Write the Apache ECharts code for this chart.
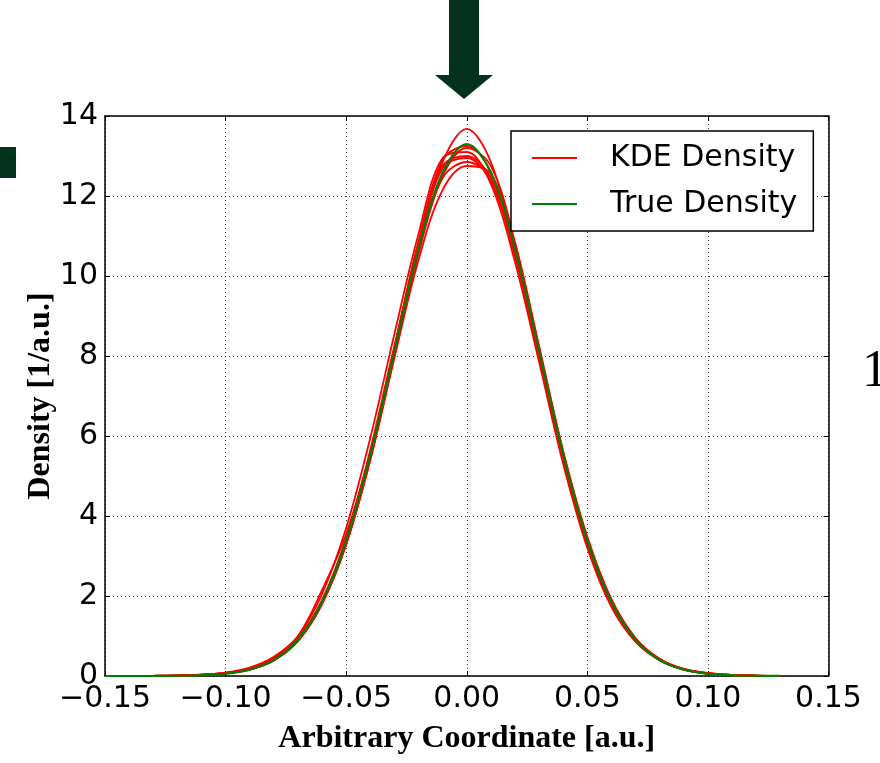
<!DOCTYPE html>
<html>
<head>
<meta charset="utf-8">
<script src="https://cdn.jsdelivr.net/npm/echarts@6/dist/echarts.min.js"></script>
<style>
  html, body { margin: 0; padding: 0; background: #fff; }
  #chart { width: 880px; height: 763px; }
</style>
</head>
<body>
<div id="chart"></div>
<script>
// Sample positions shared by every curve
const xs = [-0.15, -0.14, -0.13, -0.12, -0.11, -0.10, -0.09, -0.08, -0.07, -0.06,
            -0.05, -0.04, -0.03, -0.02, -0.01, 0.00, 0.01, 0.02, 0.03, 0.04,
            0.05, 0.06, 0.07, 0.08, 0.09, 0.10, 0.11, 0.12, 0.13];

// Reference (true) density
const trueDensity = [0, 0.0002, 0.001, 0.005, 0.0175, 0.055, 0.157, 0.398, 0.907, 1.85,
                     3.38, 5.53, 8.12, 10.68, 12.59, 13.30, 12.59, 10.68, 8.12, 5.53,
                     3.38, 1.85, 0.907, 0.398, 0.157, 0.055, 0.0175, 0.005, 0.001];

// Kernel density estimates, one per resampled data set
const kde1 = [0, 0.001, 0.003, 0.010, 0.030, 0.070, 0.17, 0.40, 0.88, 1.80,
              3.30, 5.45, 8.05, 10.75, 12.85, 13.68, 12.85, 10.70, 7.95, 5.35,
              3.25, 1.78, 0.88, 0.40, 0.17, 0.070, 0.025, 0.008, 0.002];
const kde2 = [0, 0.002, 0.005, 0.012, 0.035, 0.080, 0.19, 0.45, 0.98, 2.05,
              3.70, 5.95, 8.55, 11.05, 12.95, 13.10, 12.30, 10.35, 7.85, 5.30,
              3.20, 1.72, 0.85, 0.39, 0.16, 0.060, 0.020, 0.006, 0.001];
const kde3 = [0, 0.001, 0.004, 0.012, 0.030, 0.075, 0.18, 0.42, 0.92, 1.90,
              3.45, 5.65, 8.25, 10.70, 12.45, 12.85, 12.45, 10.55, 8.05, 5.55,
              3.45, 1.90, 0.93, 0.42, 0.17, 0.065, 0.022, 0.007, 0.002];
const kde4 = [0, 0.001, 0.003, 0.009, 0.028, 0.065, 0.16, 0.39, 0.88, 1.82,
              3.30, 5.40, 8.00, 10.55, 12.50, 13.20, 12.75, 10.85, 8.25, 5.60,
              3.42, 1.88, 0.93, 0.41, 0.16, 0.060, 0.020, 0.006, 0.001];
const kde5 = [0, 0.002, 0.005, 0.013, 0.035, 0.085, 0.21, 0.48, 1.00, 2.15,
              3.55, 5.60, 8.20, 10.80, 12.70, 12.95, 12.35, 10.50, 8.00, 5.50,
              3.38, 1.86, 0.92, 0.42, 0.17, 0.070, 0.025, 0.008, 0.002];
const kde6 = [0, 0.001, 0.004, 0.011, 0.032, 0.075, 0.18, 0.43, 0.94, 1.88,
              3.40, 5.55, 8.20, 10.85, 12.75, 13.00, 12.45, 10.55, 8.00, 5.45,
              3.35, 1.84, 0.91, 0.40, 0.16, 0.060, 0.020, 0.006, 0.001];
const kde7 = [0, 0.001, 0.003, 0.010, 0.030, 0.070, 0.17, 0.41, 0.90, 1.86,
              3.38, 5.52, 8.18, 10.85, 12.90, 13.25, 12.60, 10.60, 8.05, 5.48,
              3.35, 1.85, 0.92, 0.42, 0.18, 0.075, 0.028, 0.009, 0.002];
const kde8 = [0, 0.001, 0.003, 0.009, 0.027, 0.065, 0.16, 0.39, 0.87, 1.80,
              3.28, 5.40, 7.95, 10.40, 12.15, 12.75, 12.55, 10.80, 8.20, 5.62,
              3.48, 1.92, 0.95, 0.43, 0.17, 0.065, 0.022, 0.007, 0.002];
const kdeCurves = [kde1, kde2, kde3, kde4, kde5, kde6, kde7, kde8];

// Axis ticks
const xTicks = [-0.15, -0.10, -0.05, 0.00, 0.05, 0.10, 0.15];
const yTicks = [0, 2, 4, 6, 8, 10, 12, 14];

const legendNames = ['KDE Density', 'True Density'];

const pair = ys => xs.map((x, i) => [x, ys[i]]);
const fmtX = v => {
  if (Math.abs(v) < 1e-9) return '0.00';
  const s = Math.abs(v).toFixed(2);
  return (v < 0 ? '\u2212' : '') + s;
};

const tickFont = { fontFamily: 'DejaVu Sans', fontSize: 30, color: '#000' };
const nameFont = { fontFamily: 'Liberation Serif', fontWeight: 'bold', fontSize: 32, color: '#000' };
const dotted = { show: true, lineStyle: { color: '#000', width: 1, type: [1, 3], opacity: 0.75 } };

const series = kdeCurves.map(ys => ({
  name: legendNames[0],
  type: 'line',
  data: pair(ys),
  smooth: 0.35,
  showSymbol: false,
  symbol: 'none',
  lineStyle: { color: '#ff0000', width: 1.8 },
  itemStyle: { color: '#ff0000' },
  z: 2
}));
series.push({
  name: legendNames[1],
  type: 'line',
  data: pair(trueDensity),
  smooth: 0.35,
  showSymbol: false,
  symbol: 'none',
  lineStyle: { color: '#008000', width: 2.2 },
  itemStyle: { color: '#008000' },
  z: 3
});

const xMin = xTicks[0], xMax = xTicks[xTicks.length - 1];
const yMin = yTicks[0], yMax = yTicks[yTicks.length - 1];

const chart = echarts.init(document.getElementById('chart'), null, { renderer: 'canvas' });
chart.setOption({
  animation: false,
  backgroundColor: '#fff',
  grid: { left: 105, right: 51.5, top: 116, bottom: 87, containLabel: false },
  xAxis: [{
    type: 'value', min: xMin, max: xMax, interval: 0.05,
    axisLine: { show: true, onZero: false, lineStyle: { color: '#000', width: 1.5 } },
    axisTick: { show: true, inside: true, length: 5, lineStyle: { color: '#000' } },
    axisLabel: Object.assign({ margin: 8, formatter: fmtX }, tickFont),
    splitLine: dotted,
    name: 'Arbitrary Coordinate [a.u.]',
    nameLocation: 'middle', nameGap: 47, nameMoveOverlap: false,
    nameTextStyle: nameFont
  }, {
    type: 'value', min: xMin, max: xMax, interval: 0.05, position: 'top',
    axisLine: { show: true, onZero: false, lineStyle: { color: '#000', width: 1.5 } },
    axisTick: { show: true, inside: true, length: 5, lineStyle: { color: '#000' } },
    axisLabel: { show: false }, splitLine: { show: false }
  }],
  yAxis: [{
    type: 'value', min: yMin, max: yMax, interval: 2,
    axisLine: { show: true, onZero: false, lineStyle: { color: '#000', width: 1.5 } },
    axisTick: { show: true, inside: true, length: 5, lineStyle: { color: '#000' } },
    axisLabel: Object.assign({ margin: 7 }, tickFont),
    splitLine: dotted,
    name: 'Density [1/a.u.]',
    nameLocation: 'middle', nameGap: 48, nameRotate: 90, nameMoveOverlap: false,
    nameTextStyle: nameFont
  }, {
    type: 'value', min: yMin, max: yMax, interval: 2, position: 'right',
    axisLine: { show: true, onZero: false, lineStyle: { color: '#000', width: 1.5 } },
    axisTick: { show: true, inside: true, length: 5, lineStyle: { color: '#000' } },
    axisLabel: { show: false }, splitLine: { show: false }
  }],
  legend: {
    data: legendNames,
    orient: 'vertical',
    left: 511, top: 131,
    padding: [12, 16, 12, 21],
    itemGap: 16,
    itemWidth: 45, itemHeight: 2,
    icon: 'rect',
    backgroundColor: '#fff',
    borderColor: '#000', borderWidth: 1.5, borderRadius: 0,
    textStyle: { fontFamily: 'DejaVu Sans', fontSize: 30, color: '#000', lineHeight: 30, padding: [0, 0, 0, 28] },
    z: 10
  },
  graphic: [
    { // arrow above the plot
      type: 'polygon', z: 20,
      shape: { points: [[449, 0], [479, 0], [479, 75], [493, 75], [464, 99], [435, 75], [449, 75]] },
      style: { fill: '#03321e' }
    },
    { // block at the left edge
      type: 'rect', z: 20,
      shape: { x: 0, y: 147, width: 16, height: 31 },
      style: { fill: '#03321e' }
    },
    { // glyph at the right edge
      type: 'text', z: 20, left: 862, top: 346,
      style: { text: '1', fontFamily: 'Liberation Serif', fontSize: 52, fill: '#000' }
    }
  ],
  series: series
});
</script>
</body>
</html>
